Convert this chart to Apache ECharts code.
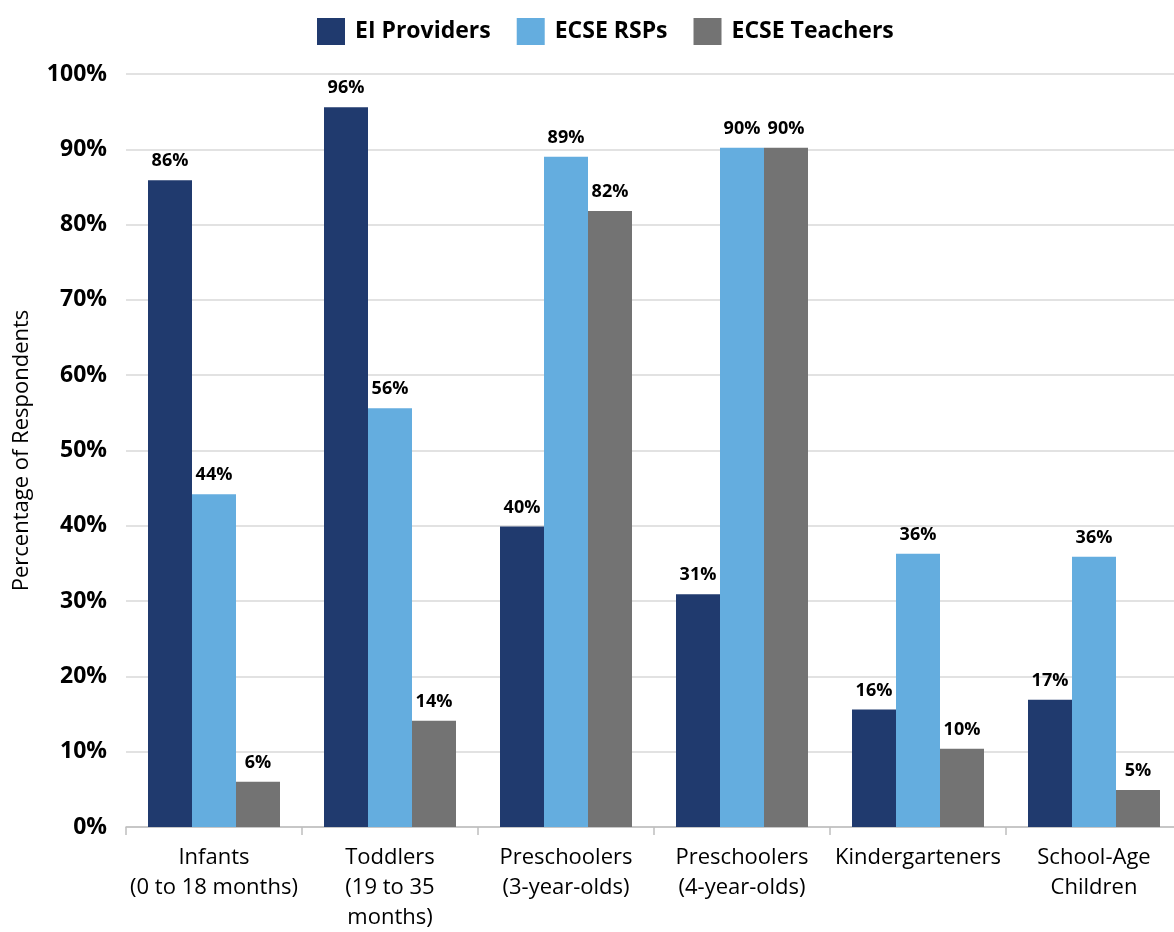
<!DOCTYPE html>
<html><head><meta charset="utf-8">
<script src="https://cdn.jsdelivr.net/npm/echarts@6/dist/echarts.min.js"></script>
<style>html,body{margin:0;padding:0;background:#fff}#c{width:1174px;height:932px}</style>
</head><body><div id="c"></div>
<script>
const categories = ["Infants\n(0 to 18 months)", "Toddlers\n(19 to 35\nmonths)", "Preschoolers\n(3-year-olds)", "Preschoolers\n(4-year-olds)", "Kindergarteners", "School-Age\nChildren"];
const seriesNames = ["EI Providers", "ECSE RSPs", "ECSE Teachers"];
const eiProviders = [85.9, 95.6, 39.9, 30.9, 15.6, 16.9];
const ecseRsps = [44.2, 55.6, 89.0, 90.2, 36.3, 35.9];
const ecseTeachers = [6.0, 14.1, 81.8, 90.2, 10.4, 4.9];
const yTicks = [0, 10, 20, 30, 40, 50, 60, 70, 80, 90, 100];
const colors = ["#203A6E", "#64ADDF", "#737373"];
const FONT = "Open Sans";

const chart = echarts.init(document.getElementById('c'));
const mk = (name, data, i) => ({
  name, type: 'bar', data, barGap: '0%', barCategoryGap: '25%',
  itemStyle: { color: colors[i] },
  label: { show: true, position: 'top', distance: 10, formatter: p => Math.round(p.value) + '%',
    color: '#000', fontWeight: 'bold', fontSize: 18, fontFamily: FONT }
});
chart.setOption({
  animation: false,
  textStyle: { fontFamily: FONT },
  legend: {
    top: 13, left: 312, itemWidth: 28, itemHeight: 27, itemGap: 26,
    icon: 'rect',
    textStyle: { fontSize: 23, fontWeight: 'bold', color: '#000', fontFamily: FONT, padding: [0, 0, 0, 5] },
    data: seriesNames
  },
  grid: { left: 126, right: -8, top: 74, bottom: 105, containLabel: false, outerBoundsMode: 'none' },
  xAxis: {
    type: 'category', data: categories,
    axisLine: { lineStyle: { color: '#bfbfbf', width: 1.5 } },
    axisTick: { show: true, length: 8, lineStyle: { color: '#bfbfbf', width: 1.5 } },
    axisLabel: { color: '#000', fontSize: 22, lineHeight: 30, margin: 16, fontFamily: FONT, interval: 0 }
  },
  yAxis: {
    type: 'value', min: 0, max: 100, interval: 10,
    name: 'Percentage of Respondents', nameLocation: 'middle', nameGap: 93, nameRotate: 90,
    nameTextStyle: { color: '#000', fontSize: 22, fontFamily: FONT },
    axisLine: { show: false }, axisTick: { show: false },
    splitLine: { lineStyle: { color: '#d9d9d9', width: 1.5 } },
    axisLabel: { color: '#000', fontSize: 23, fontWeight: 'bold', margin: 19, fontFamily: FONT,
      formatter: v => yTicks.includes(v) ? v + '%' : '' }
  },
  series: [mk(seriesNames[0], eiProviders, 0), mk(seriesNames[1], ecseRsps, 1), mk(seriesNames[2], ecseTeachers, 2)]
});
</script></body></html>
